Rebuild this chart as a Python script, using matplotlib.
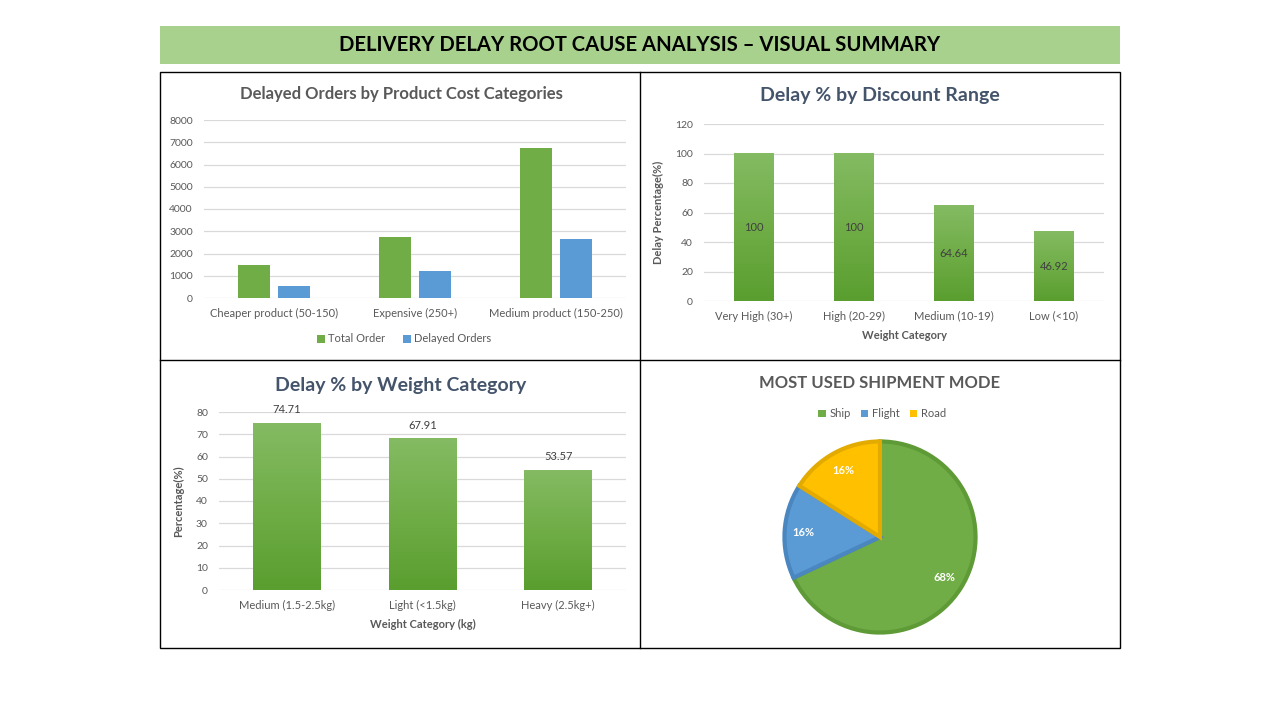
import matplotlib
matplotlib.use("Agg")
import matplotlib.pyplot as plt
import numpy as np
from matplotlib.colors import LinearSegmentedColormap
from matplotlib.patches import Rectangle
from matplotlib.lines import Line2D

plt.rcParams['font.family'] = ['Lato', 'DejaVu Sans']

# ---------------- data ----------------
cost_categories = ["Cheaper product (50-150)", "Expensive (250+)", "Medium product (150-250)"]
total_orders = [1480, 2750, 6720]
delayed_orders = [540, 1210, 2660]

discount_categories = ["Very High (30+)", "High (20-29)", "Medium (10-19)", "Low (<10)"]
discount_delay_pct = [100, 100, 64.64, 46.92]

weight_categories = ["Medium (1.5-2.5kg)", "Light (<1.5kg)", "Heavy (2.5kg+)"]
weight_delay_pct = [74.71, 67.91, 53.57]

ship_modes = ["Ship", "Flight", "Road"]
ship_share = [68, 16, 16]

# ---------------- styles ----------------
W, H = 1280, 720
GREEN = "#70AD47"
BLUE = "#5B9BD5"
YELLOW = "#FFC000"
GRID = "#D9D9D9"
TXT = "#595959"
TITLE_BLUE = "#44546A"
grad_cmap = LinearSegmentedColormap.from_list("g", ["#5A9E2F", "#70AD47", "#84BB63"])

fig = plt.figure(figsize=(12.8, 7.2), dpi=100)
fig.patch.set_facecolor("white")


def fx(px):
    return px / W


def fy(py):
    return 1 - py / H


def axes_px(left, top, right, bottom):
    return fig.add_axes([fx(left), fy(bottom), (right - left) / W, (bottom - top) / H])


def style_axes(ax, yticks, fs=7.5):
    for s in ax.spines.values():
        s.set_visible(False)
    ax.set_yticks(yticks)
    ax.grid(axis="y", color=GRID, linewidth=0.9)
    ax.set_axisbelow(True)
    ax.tick_params(axis="both", length=0, colors=TXT, labelsize=fs)
    ax.tick_params(axis="y", pad=8)
    ax.tick_params(axis="x", pad=7)


def gradient_bars(ax, bars):
    grad = np.linspace(0, 1, 256).reshape(-1, 1)
    for p in bars:
        x0, w, h = p.get_x(), p.get_width(), p.get_height()
        ax.imshow(grad, extent=(x0, x0 + w, 0, h), origin="lower", aspect="auto",
                  cmap=grad_cmap, zorder=2)
        p.set_visible(False)


# ---------------- banner ----------------
fig.add_artist(Rectangle((fx(160), fy(64)), 960 / W, 38 / H, transform=fig.transFigure,
                         facecolor="#A9D18E", edgecolor="none"))
fig.text(fx(640), fy(45), "DELIVERY DELAY ROOT CAUSE ANALYSIS \u2013 VISUAL SUMMARY",
         ha="center", va="center", fontsize=14.6, fontweight="bold", color="black")

# ---------------- panel borders ----------------
fig.add_artist(Rectangle((fx(160), fy(648)), 960 / W, 576 / H, transform=fig.transFigure,
                         facecolor="none", edgecolor="black", linewidth=1))
fig.add_artist(Line2D([fx(640), fx(640)], [fy(72), fy(648)], transform=fig.transFigure,
                      color="black", linewidth=1))
fig.add_artist(Line2D([fx(160), fx(1120)], [fy(360), fy(360)], transform=fig.transFigure,
                      color="black", linewidth=1))

# ---------------- panel 1 ----------------
ax1 = axes_px(204, 120, 626, 298)
x = np.arange(len(cost_categories))
bw = 0.227
off = 0.142
b1 = ax1.bar(x - off, total_orders, bw, color=GREEN, label="Total Order", zorder=2)
b2 = ax1.bar(x + off, delayed_orders, bw, color=BLUE, label="Delayed Orders", zorder=2)
style_axes(ax1, np.arange(0, 8001, 1000))
ax1.set_ylim(0, 8000)
ax1.set_xlim(-0.5, len(cost_categories) - 0.5)
ax1.set_xticks(x)
ax1.set_xticklabels(cost_categories, fontsize=8)
fig.text(fx(401), fy(94), "Delayed Orders by Product Cost Categories", ha="center", va="center",
         fontsize=12, fontweight="bold", color=TXT)
fig.legend(handles=[b1, b2], loc="center", bbox_to_anchor=(fx(404), fy(339)), ncol=2,
           frameon=False, fontsize=8, handlelength=0.7, handleheight=0.7, handletextpad=0.3,
           columnspacing=1.6, labelcolor=TXT)

# ---------------- panel 2 ----------------
ax2 = axes_px(704, 124, 1104, 301)
x2 = np.arange(len(discount_categories))
bars2 = ax2.bar(x2, discount_delay_pct, 0.4, color=GREEN, zorder=2)
gradient_bars(ax2, bars2)
style_axes(ax2, np.arange(0, 121, 20))
ax2.set_ylim(0, 120)
ax2.set_xlim(-0.5, len(discount_categories) - 0.5)
ax2.set_xticks(x2)
ax2.set_xticklabels(discount_categories, fontsize=8)
for xi, v in zip(x2, discount_delay_pct):
    ax2.text(xi, v / 2, f"{v:g}", ha="center", va="center", fontsize=8, color="#404040", zorder=3)
ax2.set_ylabel("Delay Percentage(%)", fontsize=8, fontweight="bold", color=TXT)
ax2.yaxis.set_label_coords(-0.1, 0.5)
ax2.set_xlabel("Weight Category", fontsize=8, fontweight="bold", color=TXT)
ax2.xaxis.set_label_coords(0.5, -0.165)
fig.text(fx(880), fy(96), "Delay % by Discount Range", ha="center", va="center",
         fontsize=14, fontweight="bold", color=TITLE_BLUE)

# ---------------- panel 3 ----------------
ax3 = axes_px(219, 412, 626, 590)
x3 = np.arange(len(weight_categories))
bars3 = ax3.bar(x3, weight_delay_pct, 0.5, color=GREEN, zorder=2)
gradient_bars(ax3, bars3)
style_axes(ax3, np.arange(0, 81, 10))
ax3.set_ylim(0, 80)
ax3.set_xlim(-0.5, len(weight_categories) - 0.5)
ax3.set_xticks(x3)
ax3.set_xticklabels(weight_categories, fontsize=8)
for xi, v in zip(x3, weight_delay_pct):
    ax3.annotate(f"{v:.2f}", (xi, v), xytext=(0, 6), textcoords="offset points",
                 ha="center", va="bottom", fontsize=8, color="#404040", annotation_clip=False)
ax3.set_ylabel("Percentage(%)", fontsize=8, fontweight="bold", color=TXT)
ax3.yaxis.set_label_coords(-0.086, 0.5)
ax3.set_xlabel("Weight Category (kg)", fontsize=8, fontweight="bold", color=TXT)
ax3.xaxis.set_label_coords(0.5, -0.165)
fig.text(fx(401), fy(385), "Delay % by Weight Category", ha="center", va="center",
         fontsize=14, fontweight="bold", color=TITLE_BLUE)

# ---------------- panel 4 ----------------
r = 97
ax4 = axes_px(880 - r, 537 - r, 880 + r, 537 + r)
pie_colors = [GREEN, BLUE, YELLOW]
edge_colors = ["#5E9A36", "#4A86C0", "#E3AA00"]
wedges, _, autotexts = ax4.pie(ship_share, colors=pie_colors, startangle=90, counterclock=False,
                               autopct="%1.0f%%", pctdistance=0.8, radius=0.985,
                               wedgeprops=dict(linewidth=3))
for w_, ec in zip(wedges, edge_colors):
    w_.set_edgecolor(ec)
for t in autotexts:
    t.set_color("white")
    t.set_fontsize(8)
    t.set_fontweight("bold")
ax4.set_xlim(-1, 1)
ax4.set_ylim(-1, 1)
ax4.set_aspect("equal")
fig.text(fx(880), fy(383), "MOST USED SHIPMENT MODE", ha="center", va="center",
         fontsize=12, fontweight="bold", color=TXT)
legend_handles = [Rectangle((0, 0), 1, 1, facecolor=c, edgecolor="none") for c in pie_colors]
fig.legend(handles=legend_handles, labels=ship_modes, loc="center",
           bbox_to_anchor=(fx(882), fy(414)),
           ncol=3, frameon=False, fontsize=8, handlelength=0.7, handleheight=0.7,
           handletextpad=0.3, columnspacing=0.9, labelcolor=TXT)

fig.savefig("out.png", dpi=100, facecolor="white")
